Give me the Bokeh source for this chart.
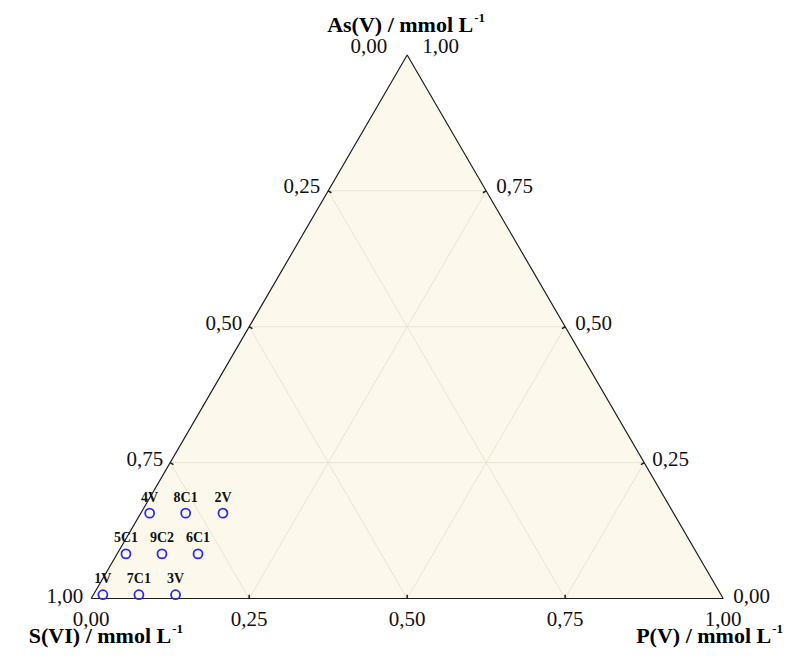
import numpy as np
from bokeh.plotting import figure
from bokeh.models import ColumnDataSource, Range1d
from bokeh.core.properties import value
from bokeh.embed import file_html
from bokeh.resources import INLINE

# ---------------- data ----------------
sample_labels = ["1V", "7C1", "3V", "5C1", "9C2", "6C1", "4V", "8C1", "2V"]
as_frac = [0.007, 0.007, 0.007, 0.082, 0.082, 0.082, 0.157, 0.157, 0.157]
p_frac = [0.015, 0.072, 0.130, 0.014, 0.071, 0.128, 0.014, 0.071, 0.130]
s_frac = [round(1 - a - q, 3) for a, q in zip(as_frac, p_frac)]

tick_vals = [0.0, 0.25, 0.5, 0.75, 1.0]
tick_text = ["0,00", "0,25", "0,50", "0,75", "1,00"]
grid_vals = [0.25, 0.5, 0.75]

title_as = "As(V) / mmol L"
title_s = "S(VI) / mmol L"
title_p = "P(V) / mmol L"
title_sup = "-1"

# ---------------- geometry ----------------
H = 0.86  # height of triangle in data units (base = 1)


def tern(a, q):
    a = np.asarray(a, float)
    q = np.asarray(q, float)
    return q + 0.5 * a, a * H


SERIF = value("Liberation Serif")

p = figure(width=785, height=648,
           x_range=Range1d(-0.1435, 1.0986), y_range=Range1d(-0.0791, 0.9462),
           output_backend="svg", toolbar_location=None,
           x_axis_location=None, y_axis_location=None, min_border=0)
p.grid.visible = False
p.outline_line_color = None
p.background_fill_color = "white"
p.border_fill_color = "white"

# triangle fill
p.patch([0, 1, 0.5], [0, 0, H], fill_color="#FCF9EC", line_color=None)

# grid lines
gx, gy = [], []
for v in grid_vals:
    gx.append([0.5 * v, 1 - 0.5 * v]); gy.append([v * H, v * H])          # constant As
    gx.append([v, v + 0.5 * (1 - v)]); gy.append([0, (1 - v) * H])       # constant P
    gx.append([1 - v, 0.5 * (1 - v)]); gy.append([0, (1 - v) * H])       # constant S
p.multi_line(gx, gy, line_color="#E9E4D2", line_width=1)

# edges
p.line([0, 1, 0.5, 0], [0, 0, H, 0], line_color="#1e1e1e", line_width=1.2)

# small inward ticks
L = 0.006
nrm = np.hypot(H, 0.5)
tx0, ty0, tx1, ty1 = [], [], [], []
for v in grid_vals:
    tx0.append(v); ty0.append(0); tx1.append(v); ty1.append(L)
    lx, ly = 0.5 * v, v * H
    tx0.append(lx); ty0.append(ly); tx1.append(lx + L * H / nrm); ty1.append(ly - L * 0.5 / nrm)
    rx, ry = 1 - 0.5 * v, v * H
    tx0.append(rx); ty0.append(ry); tx1.append(rx - L * H / nrm); ty1.append(ry - L * 0.5 / nrm)
p.segment(tx0, ty0, tx1, ty1, line_color="#1e1e1e", line_width=1.5)

TICK_FS = "21px"
tv = np.array(tick_vals)
# left edge: S(VI) fraction (1 at bottom-left)
lx, ly = tern(1 - tv, np.zeros_like(tv))
left_src = ColumnDataSource(dict(x=lx, y=ly, t=tick_text,
                                 xo=[-20, -8, -7, -7, -8], yo=[-9, -5, -4, -4, -3]))
p.text("x", "y", text="t", source=left_src, x_offset="xo", y_offset="yo",
       text_align="right", text_baseline="middle", text_font=SERIF,
       text_font_size=TICK_FS, text_color="#111111")
# right edge: As(V) fraction (1 at top)
rx, ry = tern(tv, 1 - tv)
right_src = ColumnDataSource(dict(x=rx, y=ry, t=tick_text,
                                  xo=[10, 8, 10, 10, 15], yo=[-3, -4, -4, -5, -9]))
p.text("x", "y", text="t", source=right_src, x_offset="xo", y_offset="yo",
       text_align="left", text_baseline="middle", text_font=SERIF,
       text_font_size=TICK_FS, text_color="#111111")
# bottom edge: P(V) fraction
bx, by = tern(np.zeros_like(tv), tv)
bot_src = ColumnDataSource(dict(x=bx, y=by, t=tick_text))
p.text("x", "y", text="t", source=bot_src, y_offset=20,
       text_align="center", text_baseline="middle", text_font=SERIF,
       text_font_size=TICK_FS, text_color="#111111")

# axis titles (main text + superscript)
tsrc = ColumnDataSource(dict(
    x=[0.5, 0.0, 1.0], y=[H, 0.0, 0.0],
    t=[title_as, title_s, title_p],
    xo=[66, 80, 48], yo=[-30, 37, 37]))
p.text("x", "y", text="t", source=tsrc, x_offset="xo", y_offset="yo",
       text_align="right", text_baseline="middle", text_font=SERIF,
       text_font_style="bold", text_font_size="22px", text_color="black")
ssrc = ColumnDataSource(dict(
    x=[0.5, 0.0, 1.0], y=[H, 0.0, 0.0], t=[title_sup] * 3,
    xo=[67, 81, 49], yo=[-37, 30, 30]))
p.text("x", "y", text="t", source=ssrc, x_offset="xo", y_offset="yo",
       text_align="left", text_baseline="middle", text_font=SERIF,
       text_font_style="bold", text_font_size="13px", text_color="black")

# data points
px, py = tern(as_frac, p_frac)
pts = ColumnDataSource(dict(x=px, y=py, lab=sample_labels, s=s_frac))
p.scatter("x", "y", source=pts, marker="circle", size=9, fill_color=None,
          line_color="#2b2bf0", line_width=1.8)
p.text("x", "y", text="lab", source=pts, y_offset=-16, text_align="center",
       text_baseline="middle", text_font=SERIF, text_font_style="bold",
       text_font_size="14px", text_color="#111111")

open("out.html", "w").write(file_html(p, INLINE))
